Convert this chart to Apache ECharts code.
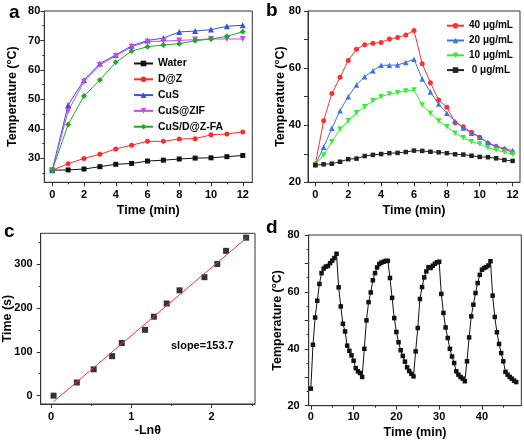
<!DOCTYPE html>
<html><head><meta charset="utf-8">
<script src="https://cdn.jsdelivr.net/npm/echarts@6/dist/echarts.min.js"></script>
<style>html,body{margin:0;padding:0;background:#fff}#c{width:524px;height:441px}</style>
</head><body><div id="c"></div>
<script>
// ---------- Panel a ----------
const aTime = [0,1,2,3,4,5,6,7,8,9,10,11,12];
const aWater   = [26.0,26.1,26.4,27.2,28.0,28.3,29.1,29.4,29.8,30.1,30.2,30.6,31.0];
const aDZ      = [26.0,28.2,30.0,31.4,33.2,34.5,35.8,35.8,36.6,36.7,38.0,38.3,39.0];
const aCuS     = [26.0,48.1,56.6,62.2,65.1,68.2,70.0,70.8,72.9,73.2,73.7,74.8,75.2];
const aCuSZIF  = [26.0,46.1,56.0,61.7,64.7,67.9,69.6,69.8,70.0,70.3,70.5,70.5,70.5];
const aCuSDZFA = [26.0,41.5,51.2,56.6,62.6,66.4,67.9,68.5,68.9,69.9,70.5,71.4,73.0];
const aNames = ['Water','D@Z','CuS','CuS@ZIF','CuS/D@Z-FA'];
const aXLabels = [0,2,4,6,8,10,12];
const aXMinor  = [1,3,5,7,9,11];
const aYLabels = [30,40,50,60,70,80];
const aYMinor  = [25,35,45,55,65,75];

// ---------- Panel b ----------
const bTime = [0,0.5,1,1.5,2,2.5,3,3.5,4,4.5,5,5.5,6,6.5,7,7.5,8,8.5,9,9.5,10,10.5,11,11.5,12];
const b40 = [26.4,41.6,51.1,56.8,62.7,66.6,68.2,68.7,69.0,70.2,70.7,71.6,73.2,61.5,54.9,48.8,46.3,40.9,39.5,37.5,35.8,33.7,32.5,31.6,30.4];
const b20 = [26.2,32.3,38.9,45.1,50.0,54.1,57.0,59.1,61.0,61.0,61.1,62.0,63.1,56.2,51.6,47.4,44.2,41.4,39.0,37.2,35.8,33.9,32.7,31.8,31.1];
const b10 = [26.0,29.6,34.2,38.6,41.6,44.4,46.5,48.6,50.0,50.9,51.4,52.0,52.3,47.1,44.2,41.5,39.5,37.2,35.6,34.2,33.4,32.1,31.3,30.6,29.8];
const b0  = [26.0,26.3,26.5,27.2,28.1,28.3,29.2,29.6,29.9,30.2,30.3,30.6,31.1,31.0,30.7,30.5,30.2,29.8,29.7,29.3,28.9,28.8,28.4,27.8,27.5];
const bNames = ['40 μg/mL','20 μg/mL','10 μg/mL',' 0 μg/mL'];
const bXLabels = [0,2,4,6,8,10,12];
const bXMinor  = [1,3,5,7,9,11];
const bYLabels = [20,40,60,80];
const bYTicks  = [20,30,40,50,60,70,80];

// ---------- Panel c ----------
const cLn   = [0.03,0.32,0.53,0.76,0.88,1.17,1.28,1.44,1.60,1.91,2.07,2.18,2.43];
const cTime = [0,30,60,90,120,150,180,210,240,270,300,330,360];
const cFitX = [0.03,2.45];
const cFitY = [-13.7,362];
const cXLabels = [0,1,2];
const cXMinor  = [0.5,1.5,2.5];
const cYLabels = [0,100,200,300];
const cYMinor  = [50,150,250,350];
const cSlopeText = 'slope=153.7';

// ---------- Panel d ----------
const dTime = [0,0.5,1,1.5,2,2.5,3,3.5,4,4.5,5,5.5,6,6.5,7,7.5,8,8.5,9,9.5,10,10.5,11,11.5,12,
  12.5,13,13.5,14,14.5,15,15.5,16,16.5,17,17.5,18,18.5,19,19.5,20,20.5,21,21.5,22,22.5,23,23.5,24,
  24.5,25,25.5,26,26.5,27,27.5,28,28.5,29,29.5,30,30.5,31,31.5,32,32.5,33,33.5,34,34.5,35,35.5,36,
  36.5,37,37.5,38,38.5,39,39.5,40,40.5,41,41.5,42,42.5,43,43.5,44,44.5,45,45.5,46,46.5,47,47.5,48];
const dTemp = [26.0,41.4,51.0,56.9,62.8,66.6,68.2,68.9,69.1,70.1,71.0,71.9,73.4,
  61.6,54.9,48.8,46.1,41.1,39.3,37.7,35.8,33.2,32.1,31.5,30.1,
  40.0,50.0,56.4,59.8,64.1,66.6,68.6,69.8,70.3,70.6,70.9,70.9,
  64.9,57.9,50.8,45.9,42.3,39.5,37.5,35.5,33.5,32.2,31.2,30.3,
  39.1,47.3,57.5,61.7,65.1,67.2,68.7,68.4,69.2,69.9,70.4,70.6,
  59.3,52.6,47.5,43.8,40.0,37.3,35.0,32.1,30.9,30.1,29.5,28.6,
  35.6,44.0,51.4,55.5,59.6,63.1,66.0,67.8,68.4,68.7,69.3,70.8,
  58.7,51.2,45.8,41.7,38.5,35.6,31.9,30.9,30.1,29.5,28.8,28.3];
const dXLabels = [0,10,20,30,40];
const dXMinor  = [5,15,25,35,45];
const dYLabels = [20,40,60,80];
const dYTicks  = [20,30,40,50,60,70,80];
const dYMinor  = [25,35,45,55,65,75];

// ---------- styling / helpers ----------
const FONT = 'Liberation Sans';
const AX = '#333';
const pairs = (xs, ys) => xs.map((x, i) => [x, ys[i]]);
const DOWN_TRI = 'path://M0,0L10,0L5,9Z';

function grid(l, t, w, h) {
  return {left:l, top:t, width:w, height:h, show:true, borderColor:AX, borderWidth:1,
          backgroundColor:'rgba(0,0,0,0)', containLabel:false, outerBoundsMode:'none'};
}
function axes(dim, gi, min, max, labels, majors, minors, name, nameGap, margin) {
  const pos = dim === 'x' ? 'bottom' : 'left';
  const main = {
    type:'value', gridIndex:gi, min:min, max:max, position:pos,
    axisLine:{show:true, onZero:false, lineStyle:{color:AX, width:1}},
    axisTick:{show:true, inside:false, length:4, customValues:majors, lineStyle:{color:AX, width:1}},
    axisLabel:{show:true, customValues:labels, margin:margin, fontFamily:FONT, fontWeight:'bold', fontSize:11, color:'#000'},
    splitLine:{show:false}, minorTick:{show:false}, minorSplitLine:{show:false},
    name:name, nameLocation:'middle', nameGap:nameGap, nameRotate: dim === 'y' ? 90 : 0,
    nameMoveOverlap:false,
    nameTextStyle:{fontFamily:FONT, fontWeight:'bold', fontSize:12.5, color:'#000'}
  };
  const minor = {
    type:'value', gridIndex:gi, min:min, max:max, position:pos,
    axisLine:{show:false, onZero:false},
    axisTick:{show: minors.length > 0, inside:false, length:2, customValues:minors, lineStyle:{color:AX, width:1}},
    axisLabel:{show:false}, splitLine:{show:false}
  };
  return [main, minor];
}

const xAxes = [].concat(
  axes('x', 0, -0.5, 12.6, aXLabels, aXLabels, aXMinor, 'Time (min)', 22, 7),
  axes('x', 1, -0.45, 12.45, bXLabels, bXLabels, bXMinor, 'Time (min)', 22, 7),
  axes('x', 2, -0.13, 2.54, cXLabels, cXLabels, cXMinor, '-Lnθ', 20, 7),
  axes('x', 3, -0.5, 49.2, dXLabels, dXLabels, dXMinor, 'Time (min)', 20, 6)
);
const yAxes = [].concat(
  axes('y', 0, 21.9, 80, aYLabels, aYLabels, aYMinor, 'Temperature (°C)', 25, 4),
  axes('y', 1, 20, 80, bYLabels, bYTicks, [], 'Temperature (°C)', 21, 7),
  axes('y', 2, -19, 370, cYLabels, cYLabels, cYMinor, 'Time (s)', 27, 8),
  axes('y', 3, 20, 80, dYLabels, dYTicks, dYMinor, 'Temperature (°C)', 25, 9)
);

function lineS(name, xi, yi, data, color, symbol, size, extra) {
  return Object.assign({
    name:name, type:'line', xAxisIndex:xi, yAxisIndex:yi, data:data,
    symbol:symbol, symbolSize:size, showSymbol:true,
    lineStyle:{color:color, width:1}, itemStyle:{color:color, borderWidth:0},
    emphasis:{disabled:true}, animation:false
  }, extra || {});
}

const series = [
  lineS('Water', 0, 0, pairs(aTime, aWater), '#111111', 'rect', 5),
  lineS('D@Z', 0, 0, pairs(aTime, aDZ), '#ff2a2a', 'circle', 5),
  lineS('CuS', 0, 0, pairs(aTime, aCuS), '#3552dd', 'triangle', 6),
  lineS('CuS@ZIF', 0, 0, pairs(aTime, aCuSZIF), '#c24ef0', DOWN_TRI, 6),
  lineS('CuS/D@Z-FA', 0, 0, pairs(aTime, aCuSDZFA), '#22a822', 'diamond', 6),

  lineS(bNames[0], 2, 2, pairs(bTime, b40), '#ff3030', 'circle', 5),
  lineS(bNames[1], 2, 2, pairs(bTime, b20), '#3d74e0', 'triangle', 5.5),
  lineS(bNames[2], 2, 2, pairs(bTime, b10), '#33ee33', DOWN_TRI, 5.5),
  lineS(bNames[3], 2, 2, pairs(bTime, b0), '#222222', 'rect', 4.5),

  {type:'scatter', xAxisIndex:4, yAxisIndex:4, data:pairs(cLn, cTime), symbol:'rect', symbolSize:6,
   itemStyle:{color:'#000'}, emphasis:{disabled:true}, animation:false},
  lineS('fit', 4, 4, pairs(cFitX, cFitY), '#ff2a55', 'none', 0, {z:3}),

  lineS('cycles', 6, 6, pairs(dTime, dTemp), '#111111', 'rect', 4.5)
];

const legendText = {fontFamily:FONT, fontWeight:'bold', fontSize:10.5, color:'#000', lineHeight:12};

const option = {
  animation:false,
  backgroundColor:'#fff',
  textStyle:{fontFamily:FONT},
  grid:[grid(44.3, 11, 208, 171.3), grid(308, 11, 212, 171.3), grid(40.7, 233.3, 214.3, 170.7), grid(308.7, 235, 212.6, 170.7)],
  xAxis:xAxes,
  yAxis:yAxes,
  legend:[
    {data:aNames, orient:'vertical', left:133, top:57.5, itemWidth:19, itemHeight:7, itemGap:3.8,
     padding:0, selectedMode:false, textStyle:legendText},
    {data:bNames, orient:'vertical', left:446, top:19.7, itemWidth:17, itemHeight:7, itemGap:2.8,
     padding:0, selectedMode:false, textStyle:Object.assign({}, legendText, {fontSize:10})}
  ],
  graphic:[
    {type:'text', left:9, top:3, style:{text:'a', font:'bold 19px "Liberation Sans"', fill:'#000'}},
    {type:'text', left:266, top:1, style:{text:'b', font:'bold 19px "Liberation Sans"', fill:'#000'}},
    {type:'text', left:4, top:222, style:{text:'c', font:'bold 19px "Liberation Sans"', fill:'#000'}},
    {type:'text', left:266, top:218, style:{text:'d', font:'bold 19px "Liberation Sans"', fill:'#000'}},
    {type:'text', left:171, top:340, style:{text:cSlopeText, font:'bold 11px "Liberation Sans"', fill:'#000'}}
  ],
  series:series
};

const chart = echarts.init(document.getElementById('c'), null, {renderer:'canvas'});
chart.setOption(option);
</script>
</body></html>
